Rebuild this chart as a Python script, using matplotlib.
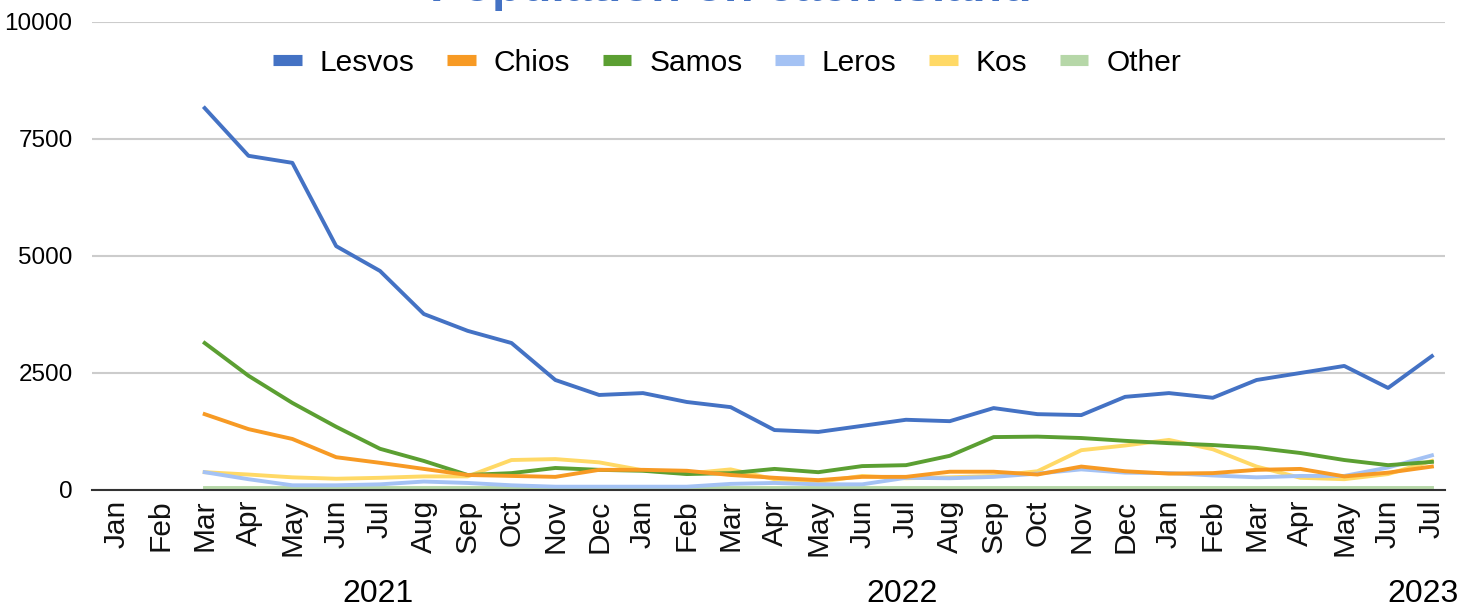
import matplotlib.pyplot as plt
from matplotlib.lines import Line2D
from matplotlib.transforms import blended_transform_factory

plt.rcParams['font.family'] = ['Liberation Sans', 'DejaVu Sans']

# Meses Jan 2021 .. Jul 2023
meses = ['Jan', 'Feb', 'Mar', 'Apr', 'May', 'Jun', 'Jul', 'Aug', 'Sep', 'Oct', 'Nov', 'Dec',
         'Jan', 'Feb', 'Mar', 'Apr', 'May', 'Jun', 'Jul', 'Aug', 'Sep', 'Oct', 'Nov', 'Dec',
         'Jan', 'Feb', 'Mar', 'Apr', 'May', 'Jun', 'Jul']
anios = ['2021', '2022', '2023']
anios_pos = [5.95, 17.9, 29.8]

# datos desde Mar 2021 (indice 2)
inicio = 2
lesvos = [8160, 7140, 6990, 5210, 4680, 3760, 3400, 3140, 2350, 2030,
          2070, 1880, 1770, 1280, 1240, 1370, 1500, 1470, 1750, 1620, 1600, 1990,
          2070, 1970, 2350, 2500, 2650, 2180, 2860]
chios = [1620, 1300, 1090, 700, 580, 450, 320, 300, 280, 430,
         430, 410, 320, 260, 210, 280, 280, 390, 390, 330, 500, 400,
         350, 360, 430, 450, 290, 370, 500]
samos = [3140, 2440, 1860, 1350, 880, 620, 320, 360, 470, 430,
         410, 340, 360, 450, 380, 510, 530, 730, 1130, 1140, 1110, 1050,
         1000, 960, 900, 790, 640, 530, 600]
leros = [380, 230, 100, 100, 120, 180, 150, 100, 70, 70,
         70, 70, 130, 150, 120, 120, 260, 250, 280, 350, 440, 370,
         360, 310, 270, 300, 300, 480, 740]
kos = [380, 330, 270, 240, 260, 290, 290, 640, 660, 590,
       420, 350, 440, 230, 170, 300, 250, 270, 300, 400, 850, 950,
       1070, 870, 500, 260, 230, 340, 620]
other = [50, 50, 50, 50, 50, 50, 50, 50, 50, 50,
         50, 50, 50, 50, 50, 50, 50, 50, 50, 50, 50, 50,
         50, 50, 50, 50, 50, 50, 50]

series = [('Lesvos', lesvos, '#4472c4'),
          ('Chios', chios, '#f79a24'),
          ('Samos', samos, '#5b9f32'),
          ('Leros', leros, '#a4c2f4'),
          ('Kos', kos, '#ffd966'),
          ('Other', other, '#b6d7a8')]

fig = plt.figure(figsize=(14.72, 6.07), dpi=100)
ax = fig.add_axes([0.0625, 0.1928, 0.9192, 0.771])

x = list(range(inicio, inicio + len(lesvos)))
# dibujar en orden inverso para que Lesvos quede arriba
for nombre, vals, color in reversed(series):
    ax.plot(x, vals, color=color, linewidth=2.8, solid_joinstyle='round')

ax.set_xlim(-0.571, 30.3)
ax.set_ylim(0, 10000)
ax.set_yticks([0, 2500, 5000, 7500, 10000])
ax.set_yticklabels(['0', '2500', '5000', '7500', '10000'], fontsize=17.5)
ax.set_xticks(range(len(meses)))
ax.set_xticklabels(meses, rotation=90, fontsize=21.5, color='#111111')
ax.tick_params(axis='both', length=0)
ax.tick_params(axis='y', pad=14)
ax.tick_params(axis='x', pad=7)
ax.grid(axis='y', color='#cccccc', linewidth=1.5)
ax.set_axisbelow(True)
for s in ['top', 'right', 'left']:
    ax.spines[s].set_visible(False)
ax.spines['bottom'].set_color('#333333')
ax.spines['bottom'].set_linewidth(1.5)

trans = blended_transform_factory(ax.transData, fig.transFigure)
for a, p in zip(anios, anios_pos):
    ax.text(p, 5 / 607, a, transform=trans, ha='center', va='baseline', fontsize=23)

# titulo cortado arriba, como en la imagen original
fig.text(0.4965, 1 - 1 / 607, 'Population on each island', ha='center', va='baseline',
         fontsize=35, fontweight='bold', color='#4472c4')

handles = [Line2D([0], [0], color=c, linewidth=8, solid_capstyle='butt') for _, _, c in series]
fig.legend(handles, [n for n, _, _ in series], loc='center', bbox_to_anchor=(0.494, 0.897),
           ncol=6, frameon=False, fontsize=21.5, handlelength=0.95, handletextpad=0.6,
           columnspacing=1.1)

fig.savefig('out.png', dpi=100)
